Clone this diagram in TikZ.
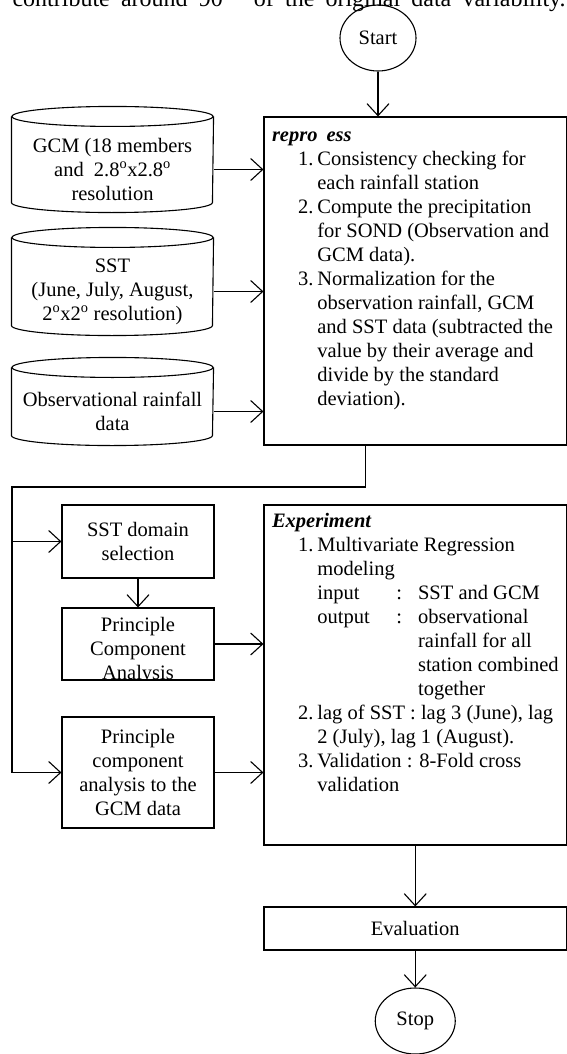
\documentclass[tikz,border=0pt]{standalone}
\usepackage{fontspec}
\setmainfont{Liberation Serif}
\usetikzlibrary{shapes.geometric,arrows.meta}

% data store outline round a named node
\newcommand\cyl[1]{%
  \draw ([yshift=10pt]#1.north) ellipse [x radius=100.5pt, y radius=10pt];
  \draw ([yshift=10pt]#1.north west) -- ([yshift=10pt]#1.south west)
    arc [start angle=180, end angle=360, x radius=100.5pt, y radius=10pt]
    -- ([yshift=10pt]#1.north east);}

\begin{document}
\begin{tikzpicture}[x=1pt, y=-1pt, line width=1.1pt,
    >={Straight Barb[length=12pt,width=22pt]},
    txt/.style={font=\fontsize{20.5}{24}\selectfont, align=center},
    box/.style={draw, rectangle, txt, inner sep=0pt},
    store/.style={rectangle, txt, minimum width=201pt, inner sep=0pt},
    term/.style={draw, ellipse, txt, inner sep=0pt}]
      \useasboundingbox (0,0) rectangle (567,1054);
      \node[anchor=base west, inner sep=0pt, font=\fontsize{24}{28}\selectfont] (toptext) at (12,7)
        {\makebox[553pt][s]{contribute around 90\phantom{\%} of the original data variability.}};
      \node[term, minimum width=76pt, minimum height=66pt] (start) at (378,38) {Start};
      % inputs
      \node[store, minimum height=85pt] (gcm) at (112.5,169.5)
        {GCM (18 members\\and\ \ 2.8\textsuperscript{o}x2.8\textsuperscript{o}\\resolution};
      \node[store, minimum height=87pt] (sst) at (112.5,291.5)
        {SST\\(June, July, August,\\2\textsuperscript{o}x2\textsuperscript{o} resolution)};
      \node[store, minimum height=67pt] (obs) at (112.5,411.5) {Observational rainfall\\data};
      \foreach \n in {gcm,sst,obs}
      \cyl{\n};
      % preprocessing
      \node[box, minimum width=302.5pt, minimum height=328pt] (prep) at (415.25,281) {};
      \node[txt, anchor=north west, inner sep=0pt] (preptext) at ([shift={(8pt,-8pt)}]prep.north west) {%
        \begin{tabular}{@{\hspace{26pt}}r@{\hspace{4pt}}l@{}}
        \multicolumn{2}{@{}l@{}}{\textbf{\textit{repro\hspace{9pt}ess}}}\\
        1. & Consistency checking for\\
           & each rainfall station\\
        2. & Compute the precipitation\\
           & for SOND (Observation and\\
           & GCM data).\\
        3. & Normalization for the\\
           & observation rainfall, GCM\\
           & and SST data (subtracted the\\
           & value by their average and\\
           & divide by the standard\\
           & deviation).
        \end{tabular}};
      % analysis
      \node[box, minimum width=152pt, minimum height=73pt] (sel) at (138,541.5) {SST domain\\selection};
      \node[box, minimum width=152pt, minimum height=72pt,
        path picture={\node[txt] (pcatext) at ([yshift=-7pt]path picture bounding box.center)
          {Principle\\Component\\Analysis};}] (pca) at (138,644) {};
      \node[box, minimum width=152pt, minimum height=111pt] (pcagcm) at (138,772.5)
        {Principle\\component\\analysis to the\\GCM data};
      \node[box, minimum width=302.5pt, minimum height=340pt] (exp) at (415.25,675) {};
      \node[txt, anchor=north west, inner sep=0pt] (exptext) at ([shift={(8pt,-6pt)}]exp.north west) {%
        \begin{tabular}{@{\hspace{26pt}}r@{\hspace{4pt}}p{79pt}@{}l@{\hspace{16pt}}l@{}}
        \multicolumn{4}{@{}l@{}}{\textbf{\textit{Experiment}}}\\
        1. & \multicolumn{3}{@{}l@{}}{Multivariate Regression}\\
           & \multicolumn{3}{@{}l@{}}{modeling}\\
           & input & : & SST and GCM\\
           & output & : & observational\\
           & & & rainfall for all\\
           & & & station combined\\
           & & & together\\
        2. & \multicolumn{3}{@{}l@{}}{lag of SST : lag 3 (June), lag}\\
           & \multicolumn{3}{@{}l@{}}{2 (July), lag 1 (August).}\\
        3. & \multicolumn{3}{@{}l@{}}{Validation : 8-Fold cross}\\
           & \multicolumn{3}{@{}l@{}}{validation}
        \end{tabular}};
      \node[box, minimum width=302.5pt, minimum height=43pt] (eval) at (415.25,928.5) {Evaluation};
      \node[term, minimum width=80pt, minimum height=66pt] (stop) at (415.25,1021) {Stop};
      % connectors
      \draw[->] (start) -- (start |- prep.north);
      \foreach \n in {gcm,sst,obs}
      \draw[->] (\n) -- (\n -| prep.west);
      \coordinate (split) at ([xshift=-50pt]prep.south);
      \coordinate (bend) at (12,487);
      \draw (split) |- (bend) -- (bend |- pcagcm);
      \draw[->] (bend |- sel) -- (sel);
      \draw[->] (bend |- pcagcm) -- (pcagcm);
      \draw[->] (sel) -- (pca);
      \draw[->] (pca) -- (pca -| exp.west);
      \draw[->] (pcagcm) -- (pcagcm -| exp.west);
      \draw[->] (exp) -- (eval);
      \draw[->] (eval) -- (stop);
\end{tikzpicture}
\end{document}
